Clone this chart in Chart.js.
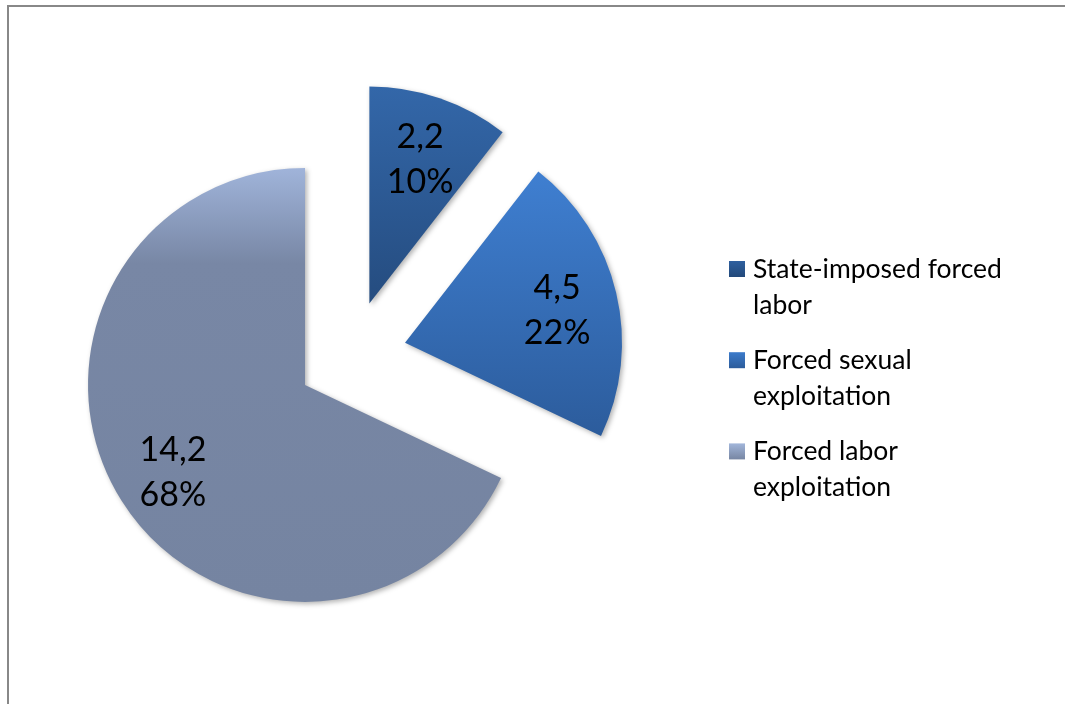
<!DOCTYPE html>
<html>
<head>
<meta charset="utf-8">
<script src="https://cdn.jsdelivr.net/npm/chart.js@4.4.0/dist/chart.umd.min.js"></script>
<style>
  html, body { margin: 0; padding: 0; background: #ffffff; overflow: hidden; }
  #wrap { position: absolute; left: 0; top: 0; width: 1065px; height: 704px; }
  #frame { position: absolute; left: 7px; top: 5px; width: 1080px; height: 720px; border: 2px solid #888888; box-sizing: border-box; }
  #c { position: absolute; left: 0; top: 0; }
</style>
</head>
<body>
<div id="wrap">
  <div id="frame"></div>
  <canvas id="c" width="1065" height="704" style="width:1065px;height:704px"></canvas>
</div>
<script>
// ---- data ----
const categories = ['State-imposed forced labor', 'Forced sexual exploitation', 'Forced labor exploitation'];
const values = [2.2, 4.5, 14.2];
const valueText = ['2,2', '4,5', '14,2'];
const percentText = ['10%', '22%', '68%'];

// ---- style ----
const RADIUS = 217;
const EXPLODE = 55;
const LABEL_FRAC = 0.72;
const LABEL_SHIFT_Y = 4;
const LABEL_FONT = '34px Lato';
const LABEL_LINE = 45;
const LEGEND_FONT = '26.5px Lato';
const LEGEND_X_BOX = 729;
const LEGEND_X_TEXT = 753;
const LEGEND_FIRST_BASELINE = 278;
const LEGEND_LINE = 35.5;
const LEGEND_GAP = 20.2;
const LEGEND_WRAP = 285;
const LEGEND_BOX = 16;

const sliceStops = [
  [[0, '#3367A9'], [1, '#254C7F']],
  [[0, '#3F7FD1'], [1, '#2C5C9C']],
  [[0, '#A0B4DA'], [0.22, '#7887A5'], [1, '#7584A1']]
];
const legendStops = [
  [[0, '#2F609F'], [1, '#23497A']],
  [[0, '#3C7BCB'], [1, '#2C5C9B']],
  [[0, '#A2B6DA'], [1, '#7786A3']]
];

function sliceGeom(chart, i) {
  const a = chart.chartArea;
  const cx = (a.left + a.right) / 2, cy = (a.top + a.bottom) / 2;
  const total = values.reduce((s, v) => s + v, 0);
  let acc = 0;
  for (let k = 0; k < i; k++) acc += values[k];
  const s = -Math.PI / 2 + acc / total * 2 * Math.PI;
  const e = s + values[i] / total * 2 * Math.PI;
  return { cx, cy, s, e };
}

function sliceGradient(context) {
  const chart = context.chart;
  const i = context.dataIndex;
  if (!chart.chartArea || i === undefined) return sliceStops[0][0][1];
  const g = sliceGeom(chart, i);
  let minY = g.cy, maxY = g.cy;
  for (let t = 0; t <= 96; t++) {
    const ang = g.s + (g.e - g.s) * t / 96;
    const y = g.cy + RADIUS * Math.sin(ang);
    minY = Math.min(minY, y);
    maxY = Math.max(maxY, y);
  }
  const grad = chart.ctx.createLinearGradient(0, minY, 0, maxY);
  sliceStops[i].forEach(([o, c]) => grad.addColorStop(o, c));
  return grad;
}

const explodePlugin = {
  id: 'explode',
  beforeDatasetsDraw(chart) {
    const ctx = chart.ctx;
    const meta = chart.getDatasetMeta(0);
    meta.data.forEach(arc => {
      const mid = (arc.startAngle + arc.endAngle) / 2;
      ctx.save();
      ctx.translate(Math.cos(mid) * EXPLODE, Math.sin(mid) * EXPLODE);
      ctx.shadowColor = 'rgba(0,0,0,0.30)';
      ctx.shadowBlur = 5;
      ctx.shadowOffsetX = 2;
      ctx.shadowOffsetY = 2;
      arc.draw(ctx);
      ctx.restore();
    });
    return false;
  }
};

const labelPlugin = {
  id: 'sliceLabels',
  afterDraw(chart) {
    const ctx = chart.ctx;
    const meta = chart.getDatasetMeta(0);
    ctx.save();
    ctx.font = LABEL_FONT;
    ctx.fillStyle = '#000000';
    ctx.textAlign = 'center';
    ctx.textBaseline = 'middle';
    meta.data.forEach((arc, i) => {
      const mid = (arc.startAngle + arc.endAngle) / 2;
      const d = EXPLODE + arc.outerRadius * LABEL_FRAC;
      const x = arc.x + Math.cos(mid) * d;
      const y = arc.y + Math.sin(mid) * d + LABEL_SHIFT_Y;
      ctx.fillText(valueText[i], x, y - LABEL_LINE / 2);
      ctx.fillText(percentText[i], x, y + LABEL_LINE / 2);
    });
    ctx.restore();
  }
};

function wrapText(ctx, text, maxW) {
  const words = text.split(' ');
  const lines = [];
  let cur = '';
  words.forEach(w => {
    const test = cur ? cur + ' ' + w : w;
    if (ctx.measureText(test).width > maxW && cur) {
      lines.push(cur);
      cur = w;
    } else {
      cur = test;
    }
  });
  if (cur) lines.push(cur);
  return lines;
}

const legendPlugin = {
  id: 'wrapLegend',
  afterDraw(chart) {
    const ctx = chart.ctx;
    ctx.save();
    ctx.font = LEGEND_FONT;
    ctx.textAlign = 'left';
    ctx.textBaseline = 'alphabetic';
    let y = LEGEND_FIRST_BASELINE;
    chart.data.labels.forEach((lab, i) => {
      const lines = wrapText(ctx, lab, LEGEND_WRAP);
      const top = y - LEGEND_BOX - 1;
      const g = ctx.createLinearGradient(0, top, 0, top + LEGEND_BOX);
      legendStops[i].forEach(([o, c]) => g.addColorStop(o, c));
      ctx.fillStyle = g;
      ctx.fillRect(LEGEND_X_BOX, top, LEGEND_BOX, LEGEND_BOX);
      ctx.fillStyle = '#000000';
      lines.forEach((ln, k) => ctx.fillText(ln, LEGEND_X_TEXT, y + k * LEGEND_LINE));
      y += lines.length * LEGEND_LINE + LEGEND_GAP;
    });
    ctx.restore();
  }
};

new Chart(document.getElementById('c').getContext('2d'), {
  type: 'pie',
  data: {
    labels: categories,
    datasets: [{
      data: values,
      backgroundColor: sliceGradient,
      borderWidth: 0,
      offset: 0,
      hoverOffset: 0,
      radius: RADIUS
    }]
  },
  options: {
    responsive: false,
    animation: false,
    events: [],
    layout: { padding: { left: 0, right: 362, top: 7, bottom: 0 } },
    plugins: { legend: { display: false }, tooltip: { enabled: false } }
  },
  plugins: [explodePlugin, labelPlugin, legendPlugin]
});
</script>
</body>
</html>
